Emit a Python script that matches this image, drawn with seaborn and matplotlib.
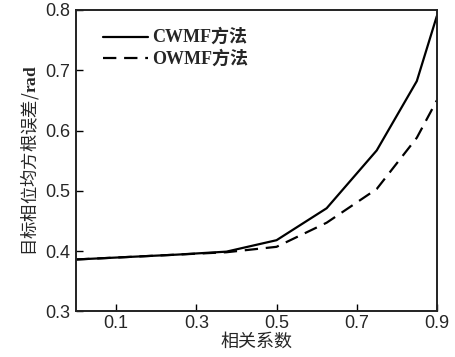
import pandas as pd
import matplotlib
matplotlib.use("Agg")
import matplotlib.pyplot as plt
import seaborn as sns

# ==========================================
# Data
# ==========================================
rho = [0.0, 0.125, 0.25, 0.375, 0.5, 0.625, 0.75, 0.85, 0.9]
cwmf_rmse = [0.386, 0.390, 0.394, 0.399, 0.418, 0.471, 0.567, 0.682, 0.790]
owmf_rmse = [0.386, 0.390, 0.394, 0.398, 0.407, 0.447, 0.503, 0.588, 0.650]
method_names = ["CWMF方法", "OWMF方法"]

x_ticks = [0.1, 0.3, 0.5, 0.7, 0.9]
y_ticks = [0.3, 0.4, 0.5, 0.6, 0.7, 0.8]

df = pd.DataFrame({
    "rho": rho * 2,
    "rmse": cwmf_rmse + owmf_rmse,
    "method": [method_names[0]] * len(rho) + [method_names[1]] * len(rho),
})

# ==========================================
# Style
# ==========================================
sns.set_style("ticks")
plt.rcParams["font.family"] = ["Liberation Sans", "Noto Sans CJK SC", "DejaVu Sans"]
plt.rcParams["mathtext.fontset"] = "custom"
plt.rcParams["mathtext.bf"] = "Liberation Serif:bold"

fig = plt.figure(figsize=(4.56, 3.57), dpi=100)
ax = fig.add_axes([0.167, 0.128, 0.791, 0.844])

sns.lineplot(
    data=df, x="rho", y="rmse", hue="method", style="method",
    palette=["black", "black"],
    dashes={method_names[0]: "", method_names[1]: (6, 3.5)},
    linewidth=1.6, ax=ax, legend=True,
)

ax.set_xlim(0, 0.9)
ax.set_ylim(0.3, 0.8)
ax.set_xticks(x_ticks)
ax.set_yticks(y_ticks)
ax.set_xticklabels([f"{t:.1f}" for t in x_ticks])
ax.set_yticklabels([f"{t:.1f}" for t in y_ticks])
ax.tick_params(direction="in", length=5, width=1.0, labelsize=13, color="black")
ax.tick_params(axis="x", pad=3)
ax.tick_params(axis="y", pad=4)

for s in ax.spines.values():
    s.set_linewidth(1.4)
    s.set_color("#222222")

ax.set_xlabel("相关系数", fontsize=13, family=["Noto Sans CJK SC"], labelpad=0)
ax.set_ylabel("目标相位均方根误差/$\\mathbf{rad}$", fontsize=12.5,
              family=["Noto Sans CJK SC"], labelpad=3)

leg = ax.legend(loc="upper left", bbox_to_anchor=(0.075, 0.94), frameon=False,
                handlelength=3.2, handletextpad=0.3, labelspacing=0.3,
                borderaxespad=0, borderpad=0)
for t in leg.get_texts():
    t.set_family(["Liberation Serif", "Noto Sans CJK SC"])
    t.set_fontweight("bold")
    t.set_fontsize(13)

fig.savefig("out.png", dpi=100)
plt.close(fig)
